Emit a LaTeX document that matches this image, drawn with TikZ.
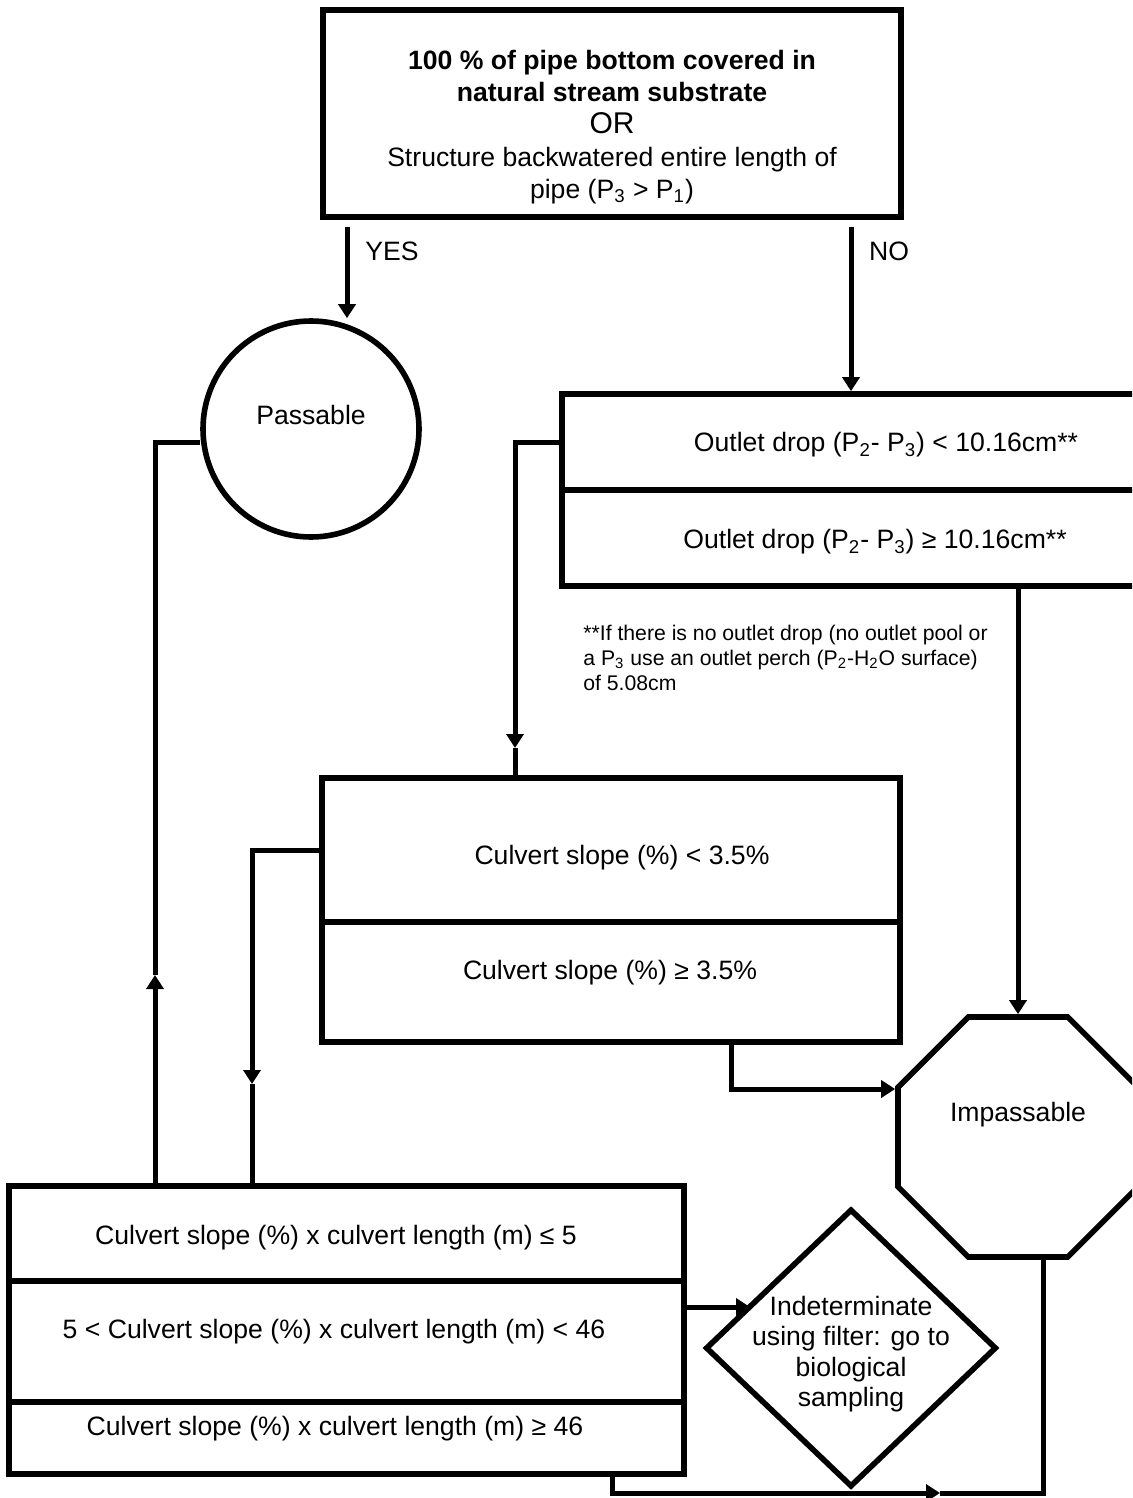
\documentclass[tikz,border=0pt]{standalone}
\usepackage{fontspec}
\setmainfont{Liberation Sans}
\usetikzlibrary{arrows.meta,shapes.geometric}
\begin{document}
\begin{tikzpicture}[x=0.5pt,y=-0.5pt,
  boxst/.style={draw, line width=2.8pt, inner sep=0pt},
  conn/.style={line width=2.5pt, line join=miter},
  arrtip/.style={-{Triangle[width=8.5pt,length=7pt]}},
  lbl/.style={font=\fontsize{13.3}{16.2}\selectfont, inner sep=0pt},
]
\useasboundingbox (0,0) rectangle (1132,1498);
\fill[white] (0,0) rectangle (1132,1498);
\clip (0,0) rectangle (1132,1498);

% top decision box
\node[boxst, line width=3pt, minimum width=289pt, minimum height=103.5pt] (top) at (612,113.5) {};
\node[lbl, align=center] (toptxt) at (612,127) {\textbf{100 \% of pipe bottom covered in}\\\textbf{natural stream substrate}\\{\fontsize{15}{16.2}\selectfont OR}\\Structure backwatered entire length of\\pipe (P\textsubscript{3} > P\textsubscript{1})};

% passable
\node[boxst, circle, minimum size=108pt] (pass) at (311,429) {};
\node[lbl] (passtxt) at (311,415) {Passable};

% outlet drop box
\node[boxst, minimum width=318pt, minimum height=96pt] (outlet) at (880,490) {};
\draw[boxst] (outlet.west) -- (outlet.east);
\node[lbl] (o1) at (886,445) {Outlet drop (P\textsubscript{2}- P\textsubscript{3}) < 10.16cm**};
\node[lbl] (o2) at (875,542) {Outlet drop (P\textsubscript{2}- P\textsubscript{3}) ≥ 10.16cm**};

% footnote
\node[lbl, align=left, anchor=west, font=\fontsize{10.6}{12.5}\selectfont] (note) at (583,658) {**If there is no outlet drop (no outlet pool or\\a P\textsubscript{3} use an outlet perch (P\textsubscript{2}-H\textsubscript{2}O surface)\\of 5.08cm};

% culvert slope box
\node[boxst, minimum width=289pt, minimum height=132pt] (culv) at (611,910) {};
\coordinate (d1) at (611,922);
\draw[boxst] (culv.west |- d1) -- (culv.east |- d1);
\node[lbl] (cs1) at (622,858) {Culvert slope (\%) < 3.5\%};
\node[lbl] (cs2) at (610,973) {Culvert slope (\%) ≥ 3.5\%};

% impassable
\node[boxst, regular polygon, regular polygon sides=8, minimum size=129.9pt] (imp) at (1018,1137) {};
\node[lbl] (imptxt) at (1018,1115) {Impassable};

% bottom box
\node[boxst, minimum width=337.5pt, minimum height=144pt] (bot) at (346.5,1330) {};
\coordinate (d2) at (346,1281);
\coordinate (d3) at (346,1402);
\draw[boxst] (bot.west |- d2) -- (bot.east |- d2);
\draw[boxst] (bot.west |- d3) -- (bot.east |- d3);
\node[lbl] (b1) at (336,1238) {Culvert slope (\%) x culvert length (m) ≤ 5};
\node[lbl] (b2) at (334,1332) {5 < Culvert slope (\%) x culvert length (m) < 46};
\node[lbl] (b3) at (335,1429) {Culvert slope (\%) x culvert length (m) ≥ 46};

% indeterminate
\node[boxst, diamond, minimum width=145.5pt, minimum height=139pt] (ind) at (851,1348) {};
\node[lbl, align=center, font=\fontsize{13.3}{15.25}\selectfont] (indtxt) at (851,1354) {Indeterminate\\using filter: go to\\biological\\sampling};

% connectors
\coordinate (yesS) at (347,227);
\draw[conn,arrtip] (yesS) -- (yesS |- pass.north);
\node[lbl] (yes) at (392,251) {YES};
\coordinate (noS) at (851,227);
\draw[conn,arrtip] (noS) -- (noS |- outlet.north);
\node[lbl] (no) at (889,251) {NO};

\coordinate (c1) at (515,442);
\coordinate (c1m) at (515,748);
\draw[conn,arrtip] (outlet.west |- c1) -- (c1) -- (c1m);
\draw[conn] (c1m) -- (c1m |- culv.north);

\coordinate (c2) at (252,850);
\coordinate (c2m) at (252,1084);
\draw[conn,arrtip] (culv.west |- c2) -- (c2) -- (c2m);
\draw[conn] (c2m) -- (c2m |- bot.north);

\coordinate (c3) at (155,442);
\coordinate (c3m) at (155,975);
\draw[conn,arrtip] (c3 |- bot.north) -- (c3m);
\draw[conn] (c3m) -- (c3) -- (c3 -| pass.west);

\coordinate (c4) at (1018,586);
\draw[conn,arrtip] (c4 |- outlet.south) -- (c4 |- imp.north);

\coordinate (c5) at (731,1089);
\draw[conn,arrtip] (c5 |- culv.south) -- (c5) -- (c5 -| imp.west);

\coordinate (c6) at (750,1307);
\draw[conn,arrtip] (bot.east |- c6) -- (c6);

\coordinate (c7) at (612,1493);
\coordinate (c7m) at (940,1493);
\coordinate (c8) at (1043,1493);
\draw[conn,arrtip] (c7 |- bot.south) -- (c7) -- (c7m);
\draw[conn] (c7m) -- (c8) -- (c8 |- imp.south);
\end{tikzpicture}
\end{document}
